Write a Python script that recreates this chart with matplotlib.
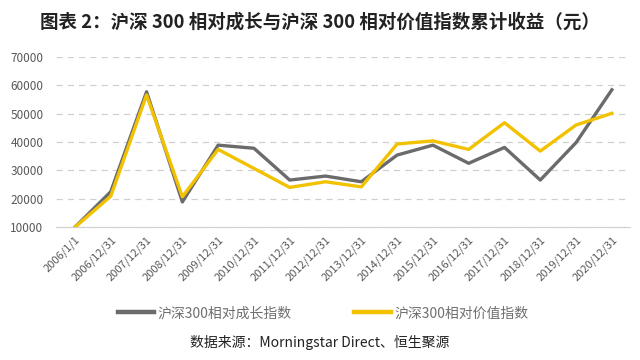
import matplotlib
matplotlib.use("Agg")
from matplotlib import pyplot as plt

plt.rcParams['font.family'] = ['Noto Sans CJK SC', 'DejaVu Sans']

dates = ["2006/1/1", "2006/12/31", "2007/12/31", "2008/12/31", "2009/12/31",
         "2010/12/31", "2011/12/31", "2012/12/31", "2013/12/31", "2014/12/31",
         "2015/12/31", "2016/12/31", "2017/12/31", "2018/12/31", "2019/12/31",
         "2020/12/31"]
growth = [10000, 22500, 57700, 18900, 38900, 37800, 26600, 28000, 26000,
          35400, 38900, 32500, 38100, 26600, 39800, 58400]
value = [10000, 20900, 56600, 20700, 37400, 30700, 24000, 26000, 24200,
         39300, 40400, 37400, 46800, 36800, 46000, 50100]

fig = plt.figure(figsize=(6.4, 3.6), dpi=100)
ax = fig.add_axes([0.0875, 0.369, 0.8965, 0.473])

x = range(len(dates))
ax.plot(x, growth, color="#6b6b6b", lw=2.4, label="沪深300相对成长指数")
ax.plot(x, value, color="#f2c200", lw=2.4, label="沪深300相对价值指数")

ax.set_ylim(10000, 70000)
ax.set_yticks(range(10000, 70001, 10000))
ax.set_xlim(-0.53, 15.5)
ax.set_xticks(list(x))
ax.set_xticklabels(dates, rotation=45, ha="right", rotation_mode="anchor")
ax.tick_params(axis="both", length=0, labelcolor="#595959")
ax.tick_params(axis="y", pad=9, labelsize=8.5)
ax.tick_params(axis="x", pad=5, labelsize=8)

ax.grid(axis="y", ls=(0, (5, 4)), color="#d0d0d0", lw=0.9)
for s in ["left", "right", "top"]:
    ax.spines[s].set_visible(False)
ax.spines["bottom"].set_color("#d0d0d0")

fig.text(0.5, 0.938, "图表 2：沪深 300 相对成长与沪深 300 相对价值指数累计收益（元）",
         ha="center", va="center", fontsize=13.3, fontweight="bold", color="#222222")

leg = fig.legend(loc="center", bbox_to_anchor=(0.505, 0.13), ncol=2, frameon=False,
                 fontsize=10, handlelength=2.6, columnspacing=4.5, handletextpad=0.3)
for t in leg.get_texts():
    t.set_color("#6f6f6f")
for h in leg.get_lines():
    h.set_linewidth(3.2)

fig.text(0.5, 0.05, "数据来源：Morningstar Direct、恒生聚源", ha="center",
         va="center", fontsize=10, color="#222222")

fig.savefig("out.png", dpi=100)
